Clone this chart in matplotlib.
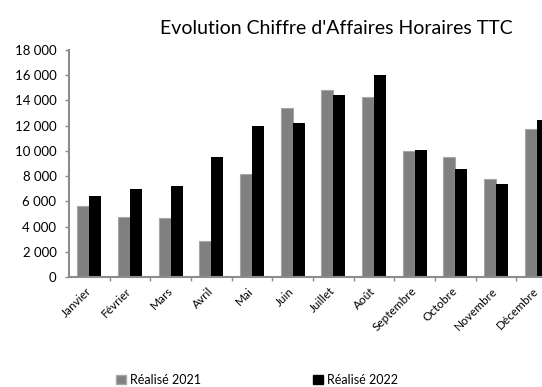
import numpy as np
import matplotlib.pyplot as plt
import matplotlib.transforms as mtransforms
from matplotlib.patches import Patch

plt.rcParams['font.family'] = ['Lato', 'DejaVu Sans']

mois = ['Janvier', 'Février', 'Mars', 'Avril', 'Mai', 'Juin', 'Juillet',
        'Août', 'Septembre', 'Octobre', 'Novembre', 'Décembre']
realise_2021 = [5600, 4750, 4650, 2850, 8150, 13400, 14850, 14250, 10000, 9500, 7800, 11700]
realise_2022 = [6400, 7000, 7200, 9500, 11950, 12200, 14400, 16000, 10050, 8550, 7350, 12450]
yticks = [0, 2000, 4000, 6000, 8000, 10000, 12000, 14000, 16000, 18000]

color_2021 = '#808080'
edge_2021 = '#a6a6a6'
color_2022 = '#000000'
axis_color = '#8c8c8c'
width = 0.295

fig = plt.figure(figsize=(5.42, 3.87), dpi=100)
# the plot area runs past the right edge, so December is cut off
ax = fig.add_axes([0.1273, 0.2842, 0.9004, 0.5866])

x = np.arange(len(mois))
ax.bar(x - 0.5*width, realise_2021, width, color=color_2021,
       edgecolor=edge_2021, linewidth=0.8)
ax.bar(x + 0.5*width, realise_2022, width, color=color_2022, linewidth=0)

ax.set_xlim(-0.5, len(mois) - 0.5)
ax.set_ylim(0, 18000)
ax.set_yticks(yticks)
ax.set_yticklabels([f'{v:,}'.replace(',', ' ') for v in yticks], fontsize=9.5)

# category ticks sit between the groups, labels at the centres
ax.set_xticks(x + 0.5, minor=True)
ax.set_xticks(x)
ax.set_xticklabels(mois, fontsize=8.5, rotation=45, ha='right',
                   rotation_mode='anchor')
ax.tick_params(axis='x', which='major', length=0, pad=6)
ax.tick_params(axis='x', which='minor', length=3, color=axis_color, width=1)
ax.tick_params(axis='y', length=3, color=axis_color, width=1, pad=6)

# nudge the rotated month names a little to the left
shift = mtransforms.ScaledTranslation(-4/100, 0, fig.dpi_scale_trans)
for lbl in ax.get_xticklabels():
    lbl.set_transform(lbl.get_transform() + shift)

ax.spines['top'].set_visible(False)
ax.spines['right'].set_visible(False)
for side in ['left', 'bottom']:
    ax.spines[side].set_color(axis_color)
    ax.spines[side].set_linewidth(1.5)

fig.text(0.62, 0.927, "Evolution Chiffre d'Affaires Horaires TTC",
         fontsize=14, ha='center', va='center')

handles = [Patch(facecolor=color_2021, edgecolor=edge_2021),
           Patch(facecolor=color_2022, edgecolor=color_2022)]
fig.legend(handles, ['Réalisé 2021', 'Réalisé 2022'], ncol=2,
           loc='center', bbox_to_anchor=(0.474, 0.018), frameon=False,
           fontsize=9, handlelength=0.8, handleheight=0.8,
           handletextpad=0.3, columnspacing=9.0)

fig.savefig('out.png', dpi=100)
